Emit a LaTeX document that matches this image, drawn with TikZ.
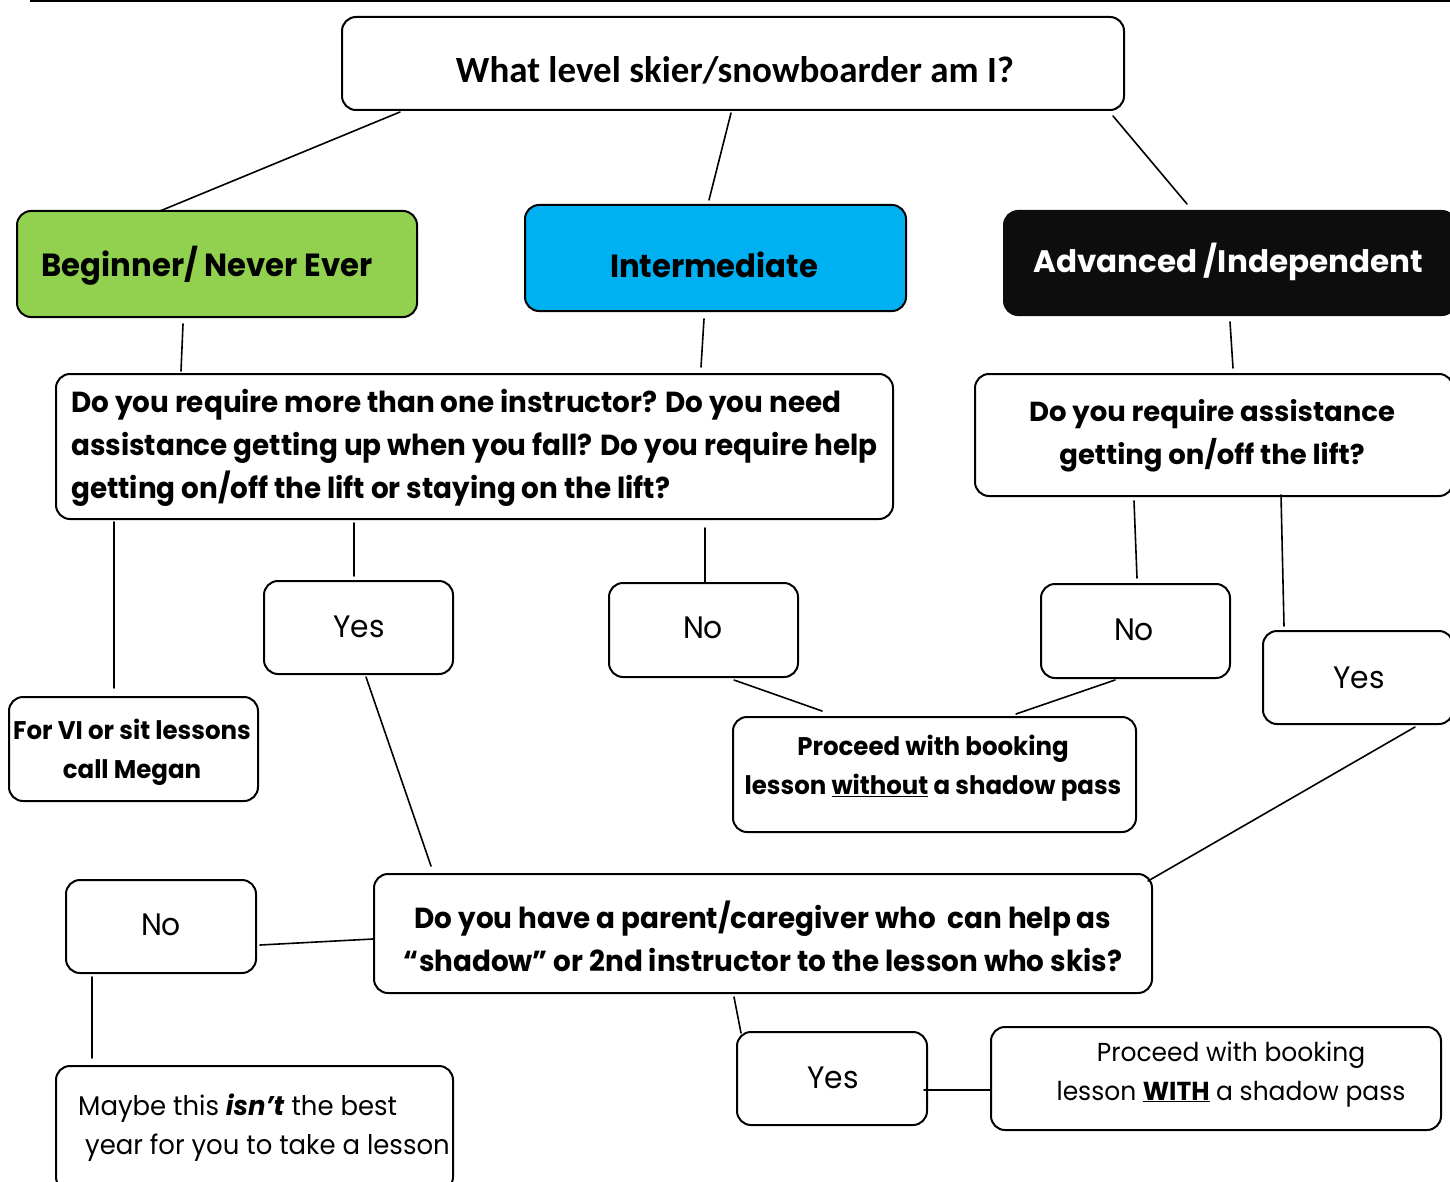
\documentclass[tikz,border=0pt]{standalone}
\usepackage{fontspec}
\setmainfont{Poppins}
\newfontfamily\titlefont{Carlito}
\newfontfamily\narfont[FakeStretch=0.96]{Poppins}
\usetikzlibrary{calc}
\definecolor{begG}{HTML}{92D050}
\definecolor{intB}{HTML}{00B0F0}
\definecolor{advK}{HTML}{0D0D0D}
\tikzset{
  box/.style={draw=black, line width=2pt, rounded corners=14pt, anchor=north west, inner sep=0pt},
  conn/.style={line width=1.6pt, line cap=round},
  txt/.style={inner sep=0pt, align=center},
  nbold/.style={font=\narfont\bfseries\fontsize{29}{43}\selectfont},
  lbold/.style={font=\narfont\bfseries\fontsize{32}{43}\selectfont},
  wbold/.style={font=\bfseries\fontsize{27.5}{43}\selectfont},
  abold/.style={font=\bfseries\fontsize{31}{43}\selectfont},
  nreg/.style={font=\narfont\fontsize{31}{39}\selectfont},
  sbold/.style={font=\narfont\bfseries\fontsize{25.5}{39}\selectfont},
  sreg/.style={font=\narfont\fontsize{27}{39}\selectfont},
  preg/.style={font=\narfont\fontsize{26}{39}\selectfont},
}
\begin{document}
\begin{tikzpicture}[x=1pt,y=-1pt]
\useasboundingbox (0,0) rectangle (1450,1182);
\draw[line width=2pt] (30,1) -- (1450,1);
% boxes
\node[box, minimum width=782pt, minimum height=93pt] (top) at (341,16) {};
\node[box, fill=begG, minimum width=400pt, minimum height=106pt] (beg) at (16,210) {};
\node[box, fill=intB, minimum width=381pt, minimum height=106pt] (int) at (524,204) {};
\node[box, fill=advK, draw=advK, minimum width=452pt, minimum height=104pt] (adv) at (1003,210) {};
\node[box, minimum width=837pt, minimum height=145pt] (q1) at (55,373) {};
\node[box, minimum width=478pt, minimum height=122pt] (q2) at (974,373) {};
\node[box, minimum width=189pt, minimum height=93pt] (yes1) at (263,580) {};
\node[box, minimum width=189pt, minimum height=94pt] (no1) at (608,582) {};
\node[box, minimum width=189pt, minimum height=94pt] (no2) at (1040,583) {};
\node[box, minimum width=190pt, minimum height=93pt] (yes2) at (1262,630) {};
\node[box, minimum width=249pt, minimum height=104pt] (vi) at (8,696) {};
\node[box, minimum width=403pt, minimum height=115pt] (pwo) at (732,716) {};
\node[box, minimum width=778pt, minimum height=119pt] (q3) at (373,873) {};
\node[box, minimum width=190pt, minimum height=93pt] (no3) at (65,879) {};
\node[box, minimum width=397pt, minimum height=125pt] (maybe) at (55,1065) {};
\node[box, minimum width=190pt, minimum height=93pt] (yes3) at (736,1031) {};
\node[box, minimum width=450pt, minimum height=103pt] (pw) at (990,1026) {};
% texts
\node[txt, font=\titlefont\bfseries\fontsize{37}{40}\selectfont] (ttop) at (735,70) {What level skier/snowboarder am I?};
\node[txt, lbold] (tbeg) at (207,266) {Beginner/ Never Ever};
\node[txt, lbold] (tint) at (714,265) {Intermediate};
\node[txt, abold, text=white] (tadv) at (1228,262) {Advanced /Independent};
\node[txt, nbold, align=left, anchor=west] (tq1) at (71,448) {Do you require more than one instructor? Do you need\\assistance getting up when you fall? Do you require help\\getting on/off the lift or staying on the lift?};
\node[txt, wbold] (tq2) at (1212,436) {Do you require assistance\\getting on/off the lift?};
\node[txt, nreg] (tyes1) at (359,627) {Yes};
\node[txt, nreg] (tno1) at (703,628) {No};
\node[txt, nreg] (tno2) at (1134,630) {No};
\node[txt, nreg] (tyes2) at (1359,678) {Yes};
\node[txt, sbold] (tvi) at (132,752) {For VI or sit lessons\\call Megan};
\node[txt, sbold] (tpwo) at (933,768) {Proceed with booking\\lesson \underline{without} a shadow pass};
\node[txt, nbold] (tq3) at (763,936) {Do you have a parent/caregiver who\ \ can help as\\\char"201C shadow\char"201D{} or 2nd instructor to the lesson who skis?};
\node[txt, nreg] (tno3) at (161,925) {No};
\node[txt, sreg, align=left, anchor=west] (tmaybe) at (78,1128) {Maybe this \textbf{\textit{isn’t}} the best\\\hspace*{7pt}year for you to take a lesson};
\node[txt, nreg] (tyes3) at (833,1078) {Yes};
\node[txt, preg] (tpw) at (1231,1074) {Proceed with booking\\lesson \underline{\textbf{WITH}} a shadow pass};
% connectors
\draw[conn] ($(top.south west)+(59,1)$) -- ($(beg.north west)+(144,1)$);
\draw[conn] ($(top.south west)+(390,2)$) -- ($(int.north west)+(185,-4)$);
\draw[conn] ($(top.south east)+(-12,5)$) -- ($(adv.north west)+(184,-6)$);
\draw[conn] ($(beg.south west)+(167,6)$) -- ($(q1.north west)+(126,-2)$);
\draw[conn] ($(int.south west)+(180,7)$) -- ($(q1.north west)+(646,-6)$);
\draw[conn] ($(adv.south west)+(227,6)$) -- ($(q2.north west)+(259,-5)$);
\draw[conn] ($(q1.south west)+(59,2)$) -- ($(vi.north west)+(106,-8)$);
\draw[conn] ($(q1.south west)+(299,3)$) -- ($(yes1.north west)+(91,-4)$);
\draw[conn] ($(q1.south west)+(650,8)$) -- ($(no1.north west)+(97,0)$);
\draw[conn] ($(q2.south west)+(160,4)$) -- ($(no2.north west)+(97,-5)$);
\draw[conn] ($(q2.south west)+(307,-2)$) -- ($(yes2.north west)+(22,-4)$);
\draw[conn] ($(no1.south west)+(126,2)$) -- ($(pwo.north west)+(90,-5)$);
\draw[conn] ($(no2.south west)+(75,1)$) -- ($(pwo.north west)+(284,-2)$);
\draw[conn] ($(yes2.south west)+(153,2)$) -- ($(q3.north east)+(-5,8)$);
\draw[conn] ($(yes1.south west)+(103,2)$) -- ($(q3.north west)+(58,-7)$);
\draw[conn] ($(q3.north west)+(0,66)$) -- ($(no3.north east)+(3,66)$);
\draw[conn] ($(no3.south west)+(27,3)$) -- ($(maybe.north west)+(37,-7)$);
\draw[conn] ($(q3.south west)+(361,3)$) -- ($(yes3.north west)+(5,2)$);
\draw[conn] ($(yes3.north east)+(-4,59)$) -- ($(pw.north west)+(0,64)$);
\end{tikzpicture}
\end{document}
